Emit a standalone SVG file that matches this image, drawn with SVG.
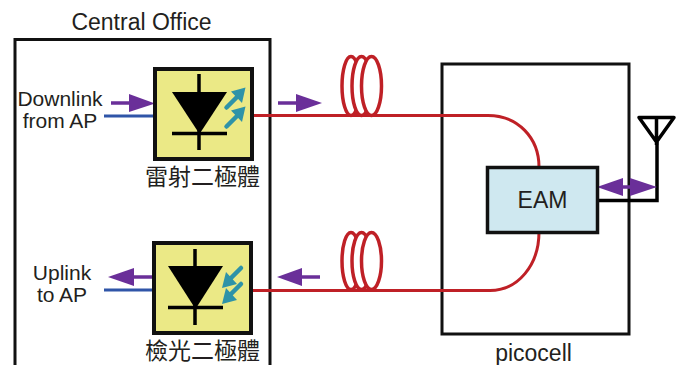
<svg xmlns="http://www.w3.org/2000/svg" width="684" height="365" viewBox="0 0 684 365">
<style>
text{font-family:"Liberation Sans",Arial,"Noto Sans CJK TC",sans-serif;fill:#231f20;font-size:21px;text-anchor:middle}
.big{font-size:23px}
.cjk{font-family:"Noto Sans CJK TC","Liberation Sans",sans-serif;font-size:23px}
.box{fill:none;stroke:#111;stroke-width:3}
.dev{fill:#ebe986;stroke:#111;stroke-width:4}
.red{fill:none;stroke:#bf2026;stroke-width:3}
.coil{fill:#fff;stroke:#bf2026;stroke-width:3.500}
.blue{fill:none;stroke:#2f55a8;stroke-width:3}
.pur{fill:#6a2f99;stroke:none}
.purl{stroke:#6a2f99;stroke-width:3.500;fill:none}
.teal{fill:#2e93a8}
.tealb{stroke:#2e93a8;stroke-width:4.500;fill:none;stroke-linecap:round}
.k{stroke:#000;stroke-width:3.500;fill:none}
</style>
<g id="central-office">
<path class="box" d="M15 365V39.500H270V365"/>
<text class="big" x="141.500" y="30">Central Office</text>
</g>
<g id="picocell">
<rect class="box" x="442" y="64" width="187" height="270"/>
<text class="big" x="533.500" y="361">picocell</text>
</g>
<g id="connectors">
<g id="coil-top">
<ellipse class="coil" cx="351" cy="86" rx="9" ry="29.500"/>
<ellipse class="coil" cx="361.500" cy="86" rx="9.500" ry="29.500"/>
<ellipse class="coil" cx="371.500" cy="86" rx="10" ry="29.500"/>
</g>
<g id="coil-bottom">
<ellipse class="coil" cx="351" cy="261" rx="9" ry="28.500"/>
<ellipse class="coil" cx="361.500" cy="261" rx="9.500" ry="28.500"/>
<ellipse class="coil" cx="371.500" cy="261" rx="10" ry="28.500"/>
</g>
<path class="red" d="M252 115.500H488C518 115.500 539 138 539 167"/>
<path class="red" d="M252 290.500H490C518 290.500 539 265 539 232"/>
<path class="blue" d="M104 116H154"/>
<path class="blue" d="M104 290H153"/>
<path class="k" d="M597 200.500H657V142"/>
<g id="flow-arrows">
<path class="purl" d="M111 103H132"/><path class="pur" d="M129 94L155 103.500L129 112Z"/>
<path class="purl" d="M278 103H300"/><path class="pur" d="M296 94L322 103L296 112Z"/>
<path class="purl" d="M132 277H153"/><path class="pur" d="M134 268L108 277L134 286Z"/>
<path class="purl" d="M298 277H320"/><path class="pur" d="M302 268L277 277L302 286Z"/>
<path class="purl" d="M620 187H634"/><path class="pur" d="M597 187L623 178V196Z"/><path class="pur" d="M657 187L630 178V196Z"/>
</g>
</g>
<g id="laser-diode">
<rect class="dev" x="155" y="69" width="97" height="90"/>
<path d="M172 92H227L199.500 134Z" fill="#000"/>
<path class="k" d="M199 74V150M172 133.500H227"/>
<path class="tealb" d="M226.500 107.500L238 96M226.500 126.500L238 115"/>
<path class="teal" d="M245.500 87.500L231 91.500L242 103ZM245.500 106.500L231 110.500L242 122Z"/>
<text class="cjk" x="202.500" y="185">雷射二極體</text>
</g>
<g id="photo-diode">
<rect class="dev" x="154" y="243" width="97" height="90"/>
<path d="M168 266H223L195.500 309Z" fill="#000"/>
<path class="k" d="M195 249V325M168 307.500H223"/>
<path class="tealb" d="M241 268L230 279M241 284L230 295"/>
<path class="teal" d="M222 288L237 284L226 272ZM222 304L237 300L226 288Z"/>
<text class="cjk" x="202.500" y="359">檢光二極體</text>
</g>
<g id="eam">
<rect x="487.500" y="167.500" width="110" height="65" fill="#cfe8f0" stroke="#111" stroke-width="3.500"/>
<text class="big" x="542.500" y="208">EAM</text>
</g>
<g id="antenna">
<path class="k" d="M639 117.500H674L656.500 142ZM656.500 117.500V145" stroke-linejoin="round"/>
</g>
<g id="labels">
<text x="60" y="106">Downlink</text>
<text x="60" y="128">from AP</text>
<text x="62" y="280">Uplink</text>
<text x="62" y="302">to AP</text>
</g>
</svg>
